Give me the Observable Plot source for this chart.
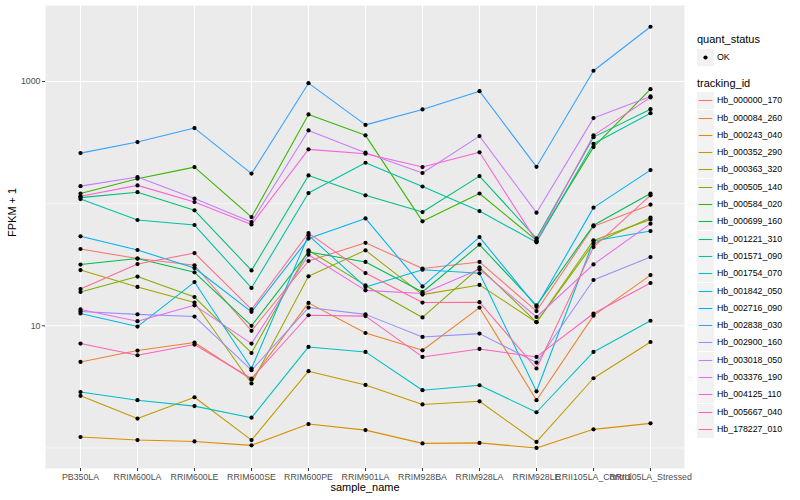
<!DOCTYPE html>
<html><head><meta charset="utf-8">
<script src="https://cdn.jsdelivr.net/npm/d3@7"></script>
<script src="https://cdn.jsdelivr.net/npm/@observablehq/plot@0.6"></script>
<style>
body{margin:0;background:#fff;font-family:"Liberation Sans",Arial,sans-serif;}
#wrap{position:relative;width:800px;height:500px;}
#chart{position:absolute;left:0;top:0;}
#legend{position:absolute;left:697px;top:0;width:103px;}
.ltitle{position:absolute;left:0;font-size:11px;color:#000;white-space:nowrap;}
.lkey{position:absolute;left:0;width:17px;height:17px;background:#F2F2F2;}
.llab{position:absolute;left:20px;font-size:8.8px;color:#000;white-space:nowrap;line-height:17px;}
</style></head>
<body><div id="wrap"><div id="chart"></div><div id="legend"></div></div>
<script>
const samples = ["PB350LA","RRIM600LA","RRIM600LE","RRIM600SE","RRIM600PE","RRIM901LA","RRIM928BA","RRIM928LA","RRIM928LE","RRII105LA_Control","RRII105LA_Stressed"];
const trackingIds = ["Hb_000000_170","Hb_000084_260","Hb_000243_040","Hb_000352_290","Hb_000363_320","Hb_000505_140","Hb_000584_020","Hb_000699_160","Hb_001221_310","Hb_001571_090","Hb_001754_070","Hb_001842_050","Hb_002716_090","Hb_002838_030","Hb_002900_160","Hb_003018_050","Hb_003376_190","Hb_004125_110","Hb_005667_040","Hb_178227_010"];
const palette = ["#F8766D","#EA8331","#D89000","#C09B00","#A3A500","#7CAE00","#39B600","#00BB4E","#00BF7D","#00C1A3","#00BFC4","#00BAE0","#00B0F6","#35A2FF","#9590FF","#C77CFF","#E76BF3","#FA62DB","#FF62BC","#FF6C91"];
const yTicks = [10, 1000];
const yMinor = [1, 100];
const quantStatus = ["OK"];

// FPKM + 1, one array per tracking_id, in sample order
const hb_000000_170 = [42.5, 35.5, 31.3, 9.1, 33.9, 47.8, 29.4, 33.3, 13.2, 65.2, 98];
const hb_000084_260 = [5.06, 6.27, 7.29, 3.63, 15.4, 8.73, 6.30, 14.1, 2.46, 12.1, 26.0];
const hb_000243_040 = [1.23, 1.16, 1.13, 1.05, 1.57, 1.40, 1.09, 1.10, 1.00, 1.42, 1.59];
const hb_000352_290 = [2.67, 1.74, 2.60, 1.16, 4.25, 3.28, 2.27, 2.41, 1.12, 3.72, 7.37];
const hb_000363_320 = [28.6, 20.8, 15.5, 3.37, 25.4, 41.5, 18.0, 21.6, 10.7, 50, 74.3];
const hb_000505_140 = [18.9, 25.3, 17.2, 5.99, 41.5, 21.4, 11.7, 30.1, 10.7, 47.0, 76.8];
const hb_000584_020 = [121, 160, 199, 77.6, 537, 362, 71.6, 121, 50, 290, 865];
const hb_000699_160 = [31.7, 35.5, 27.4, 10.0, 40.2, 33.3, 18.9, 46.1, 14.7, 66.4, 121];
const hb_001221_310 = [112, 124, 88.1, 28.4, 170, 117, 85.3, 168, 52, 350, 593];
const hb_001571_090 = [109, 73.4, 66.8, 20.4, 122, 216, 138, 86.9, 48.2, 309, 550];
const hb_001754_070 = [2.87, 2.46, 2.20, 1.77, 6.71, 6.11, 2.97, 3.26, 1.96, 6.11, 11.0];
const hb_001842_050 = [12.6, 9.85, 22.8, 4.47, 55.0, 20.8, 28.8, 26.9, 2.91, 49.5, 59.6];
const hb_002716_090 = [54, 41.7, 29.7, 13.0, 51.7, 75.7, 21.0, 53.2, 14.3, 92.7, 188];
const hb_002838_030 = [259, 319, 415, 176, 968, 441, 590, 833, 200, 1223, 2802];
const hb_002900_160 = [13.1, 12.4, 11.9, 4.33, 14.1, 12.4, 8.10, 8.63, 5.0, 23.7, 36.5];
const hb_003018_050 = [139, 165, 110, 70.6, 397, 261, 178, 357, 84.3, 501, 754];
const hb_003376_190 = [13.6, 10.9, 14.7, 7.15, 38.2, 19.5, 18.4, 29.0, 11.8, 31.8, 68.5];
const hb_004125_110 = [115, 141, 103, 67.6, 278, 256, 199, 263, 49.1, 362, 740];
const hb_005667_040 = [7.15, 5.74, 7.02, 3.70, 12.2, 12.0, 5.56, 6.46, 5.56, 12.6, 22.4];
const hb_178227_010 = [20.0, 32.0, 39.4, 13.6, 57.4, 27.0, 15.5, 15.6, 4.47, 44.1, 117];

const series = [hb_000000_170, hb_000084_260, hb_000243_040, hb_000352_290, hb_000363_320, hb_000505_140, hb_000584_020, hb_000699_160, hb_001221_310, hb_001571_090, hb_001754_070, hb_001842_050, hb_002716_090, hb_002838_030, hb_002900_160, hb_003018_050, hb_003376_190, hb_004125_110, hb_005667_040, hb_178227_010];

const data = [];
trackingIds.forEach((id, i) => series[i].forEach((v, j) => data.push({id, sample: samples[j], value: v, status: "OK"})));

const font = '"Liberation Sans", Arial, sans-serif';
const plot = Plot.plot({
  width: 800, height: 500,
  marginLeft: 45, marginRight: 116, marginTop: 5, marginBottom: 32,
  style: {fontFamily: font, fontSize: "8.8px", color: "#4D4D4D", background: "transparent", overflow: "visible"},
  x: {type: "point", domain: samples, padding: 0.6, label: null},
  y: {type: "log", domain: [0.679, 4184], label: null},
  color: {domain: trackingIds, range: palette},
  marks: [
    Plot.frame({fill: "#EBEBEB", stroke: null}),
    Plot.gridY(yMinor, {stroke: "white", strokeOpacity: 1, strokeWidth: 0.55}),
    Plot.gridY(yTicks, {stroke: "white", strokeOpacity: 1, strokeWidth: 1.1}),
    Plot.gridX(samples, {stroke: "white", strokeOpacity: 1, strokeWidth: 1.1}),
    Plot.axisY(yTicks, {tickSize: 3, tickPadding: 2, tickFormat: d => String(d), stroke: "#333", fill: "#4D4D4D", label: null}),
    Plot.axisX({tickSize: 3, tickPadding: 2, stroke: "#333", fill: "#4D4D4D", label: null}),
    Plot.line(data, {x: "sample", y: "value", z: "id", stroke: "id", strokeWidth: 1.07}),
    Plot.dot(data, {x: "sample", y: "value", fill: "black", r: 2.1}),
    Plot.text(["sample_name"], {text: d => d, frameAnchor: "bottom", dy: 22, fontSize: 11, fill: "black"}),
    Plot.text(["FPKM + 1"], {text: d => d, frameAnchor: "left", dx: -33, rotate: -90, fontSize: 11, fill: "black"})
  ]
});
document.getElementById("chart").appendChild(plot);

// legend
const lg = document.getElementById("legend");
function add(html){ lg.insertAdjacentHTML("beforeend", html); }
add(`<div class="ltitle" style="top:33px">quant_status</div>`);
quantStatus.forEach((q, i) => {
  const top = 48.5 + i * 17.3;
  add(`<div class="lkey" style="top:${top}px"><svg width="17" height="17"><circle cx="8.5" cy="8.5" r="2.1" fill="black"/></svg></div>`);
  add(`<div class="llab" style="top:${top}px">${q}</div>`);
});
add(`<div class="ltitle" style="top:76.5px">tracking_id</div>`);
trackingIds.forEach((id, i) => {
  const top = 92.2 + i * 17.3;
  add(`<div class="lkey" style="top:${top}px"><svg width="17" height="17"><line x1="1.7" x2="15.3" y1="8.5" y2="8.5" stroke="${palette[i]}" stroke-width="1.07"/></svg></div>`);
  add(`<div class="llab" style="top:${top}px">${id}</div>`);
});
</script></body></html>
